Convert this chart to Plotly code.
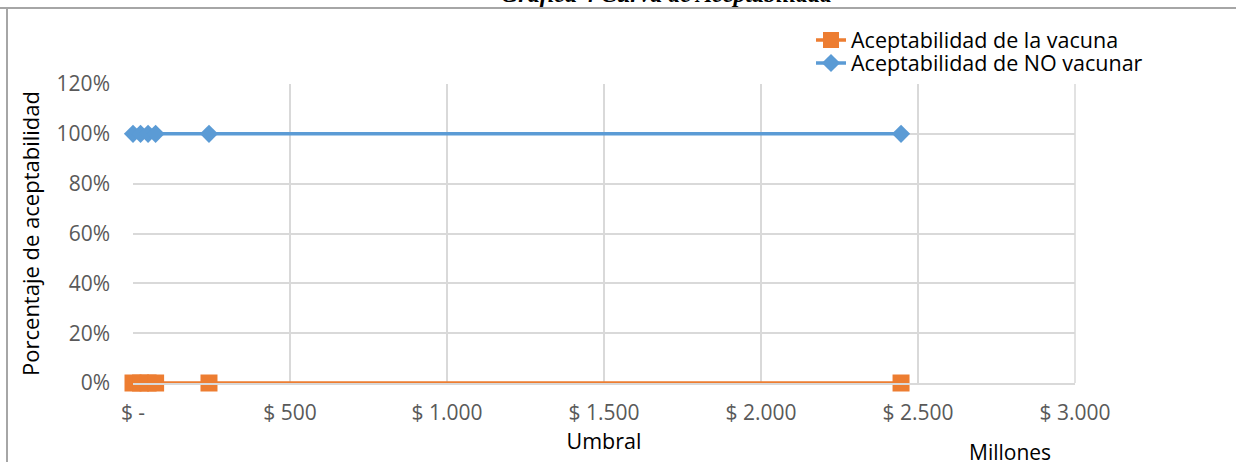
import plotly.graph_objects as go

umbral = [0, 24, 48, 72, 242, 2446]
acept_vacuna = [0, 0, 0, 0, 0, 0]
acept_no_vacunar = [1, 1, 1, 1, 1, 1]
x_tickvals = [0, 500, 1000, 1500, 2000, 2500, 3000]
x_ticktext = ["$ -", "$ 500", "$ 1.000", "$ 1.500", "$ 2.000", "$ 2.500", "$ 3.000"]
y_tickvals = [0, 0.2, 0.4, 0.6, 0.8, 1.0, 1.2]
y_ticktext = ["0%", "20%", "40%", "60%", "80%", "100%", "120%"]

FONT = "'Open Sans', 'Noto Sans', sans-serif"
W, H = 1236, 462
L, R, T, B = 133, 161, 84, 79

fig = go.Figure()
fig.add_trace(go.Scatter(
    x=umbral, y=acept_vacuna, name="Aceptabilidad de la vacuna",
    mode="lines+markers",
    line=dict(color="#ED7D31", width=3.5),
    marker=dict(symbol="square", size=17, color="#ED7D31"),
    cliponaxis=False, legend="legend",
))
fig.add_trace(go.Scatter(
    x=umbral, y=acept_no_vacunar, name="Aceptabilidad de NO vacunar",
    mode="lines+markers",
    line=dict(color="#5B9BD5", width=3.5),
    marker=dict(symbol="diamond", size=14, color="#5B9BD5"),
    cliponaxis=False, legend="legend2",
))

def px_y(p):
    return (H - B - p) / (H - T - B)

def px_x(p):
    return (p - L) / (W - L - R)

leg_common = dict(
    xanchor="left", yanchor="middle",
    font=dict(family=FONT, size=21.5, color="#000000"),
    bgcolor="rgba(0,0,0,0)", itemwidth=30,
)

fig.update_layout(
    width=W, height=H,
    margin=dict(l=L, r=R, t=T, b=B, pad=0),
    paper_bgcolor="white", plot_bgcolor="white",
    font=dict(family=FONT, size=21, color="#595959"),
    showlegend=True,
    legend=dict(x=px_x(811), y=px_y(40), **leg_common),
    legend2=dict(x=px_x(811), y=px_y(63), **leg_common),
    xaxis=dict(
        range=[0, 3000], tickvals=x_tickvals, ticktext=x_ticktext,
        showgrid=True, gridcolor="#D9D9D9", gridwidth=1.5,
        zeroline=False, showline=True, linecolor="#D9D9D9", linewidth=1.5,
        ticks="", ticklabelstandoff=10,
        tickfont=dict(family=FONT, size=21, color="#595959"),
        title=dict(text="Umbral", font=dict(family=FONT, size=21.5, color="#000000"), standoff=4),
    ),
    yaxis=dict(
        range=[0, 1.2], tickvals=y_tickvals, ticktext=y_ticktext,
        showgrid=True, gridcolor="#D9D9D9", gridwidth=1.5,
        zeroline=False, showline=False,
        ticks="", ticklabelstandoff=22,
        tickfont=dict(family=FONT, size=21, color="#595959"),
        title=dict(text="Porcentaje de aceptabilidad", font=dict(family=FONT, size=22, color="#000000"), standoff=10),
    ),
)

fig.add_shape(type="line", xref="paper", yref="paper", x0=1, x1=1, y0=0, y1=1,
              line=dict(color="#D9D9D9", width=1.5))

# chart frame: top separator and left border
fig.add_shape(type="line", xref="paper", yref="paper", x0=px_x(0), x1=px_x(W), y0=px_y(8), y1=px_y(8),
              line=dict(color="#A6A6A6", width=2))
fig.add_shape(type="line", xref="paper", yref="paper", x0=px_x(7), x1=px_x(7), y0=px_y(8), y1=px_y(H),
              line=dict(color="#A6A6A6", width=2))

# cut-off title
fig.add_annotation(
    text="<b><i>Gráfica 4 Curva de Aceptabilidad</i></b>",
    xref="paper", yref="paper", x=px_x(667), y=px_y(-6),
    xanchor="center", yanchor="middle", showarrow=False,
    font=dict(family="'Liberation Serif', 'DejaVu Serif', serif", size=24, color="#000000"),
)
fig.add_annotation(
    text="Millones", xref="paper", yref="paper", x=px_x(1010), y=px_y(452),
    xanchor="center", yanchor="middle", showarrow=False,
    font=dict(family=FONT, size=21, color="#000000"),
)

fig.write_html("out.html")
